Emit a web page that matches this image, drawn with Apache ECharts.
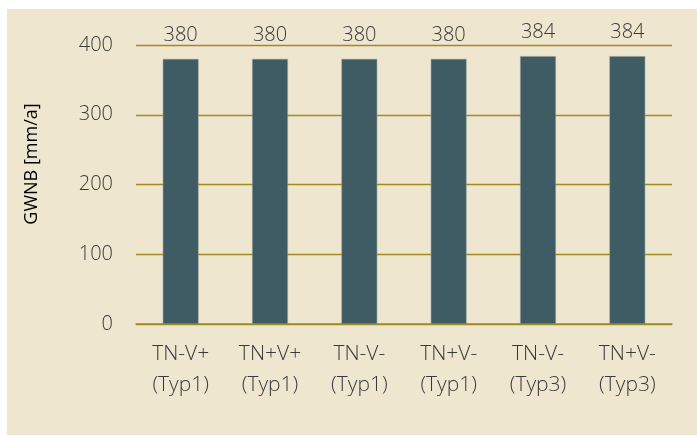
<!DOCTYPE html>
<html>
<head>
<meta charset="utf-8">
<script src="https://cdn.jsdelivr.net/npm/echarts@6/dist/echarts.min.js"></script>
<style>
  html, body { margin: 0; padding: 0; background: #ffffff; }
  #chart { width: 697px; height: 436px; }
</style>
</head>
<body>
<div id="chart"></div>
<script>
// Groundwater recharge per scenario
const categories = ['TN-V+\n(Typ1)', 'TN+V+\n(Typ1)', 'TN-V-\n(Typ1)', 'TN+V-\n(Typ1)', 'TN-V-\n(Typ3)', 'TN+V-\n(Typ3)'];
const values = [380, 380, 380, 380, 384, 384];
const yTicks = [0, 100, 200, 300, 400];
const yTitle = 'GWNB [mm/a]';

const font = '"Open Sans"';
const chart = echarts.init(document.getElementById('chart'), null, { renderer: 'canvas' });

chart.setOption({
  backgroundColor: '#ffffff',
  animation: false,
  graphic: [{
    type: 'rect',
    z: -10,
    shape: { x: 7, y: 9, width: 690, height: 426 },
    style: { fill: '#efe6d0' }
  }, {
    type: 'text',
    x: 32,
    y: 164,
    rotation: Math.PI / 2,
    style: {
      text: yTitle,
      fill: '#000000',
      font: '18px "Open Sans"',
      align: 'center',
      verticalAlign: 'middle'
    }
  }],
  grid: { left: 136, right: 25, top: 45, bottom: 112 },
  xAxis: {
    type: 'category',
    data: categories,
    axisTick: { show: false },
    axisLine: { lineStyle: { color: '#a08c1e', width: 1.5 } },
    axisLabel: {
      color: '#3a3a3a',
      fontFamily: font,
      fontWeight: 300,
      fontSize: 21,
      lineHeight: 31,
      margin: 15,
      interval: 0
    }
  },
  yAxis: {
    type: 'value',
    min: yTicks[0],
    max: yTicks[yTicks.length - 1],
    interval: 100,
    axisLine: { show: false },
    axisTick: { show: false },
    splitLine: { lineStyle: { color: '#a08c1e', width: 1.3 } },
    axisLabel: {
      color: '#3a3a3a',
      fontFamily: font,
      fontWeight: 300,
      fontSize: 20,
      margin: 23
    }
  },
  series: [{
    type: 'bar',
    data: values,
    barWidth: '40%',
    itemStyle: { color: '#3f5c64', borderColor: '#8c9a9a', borderWidth: 0.5 },
    label: {
      show: true,
      position: 'top',
      distance: 14,
      color: '#3a3a3a',
      fontFamily: font,
      fontWeight: 300,
      fontSize: 20
    }
  }]
});
</script>
</body>
</html>
